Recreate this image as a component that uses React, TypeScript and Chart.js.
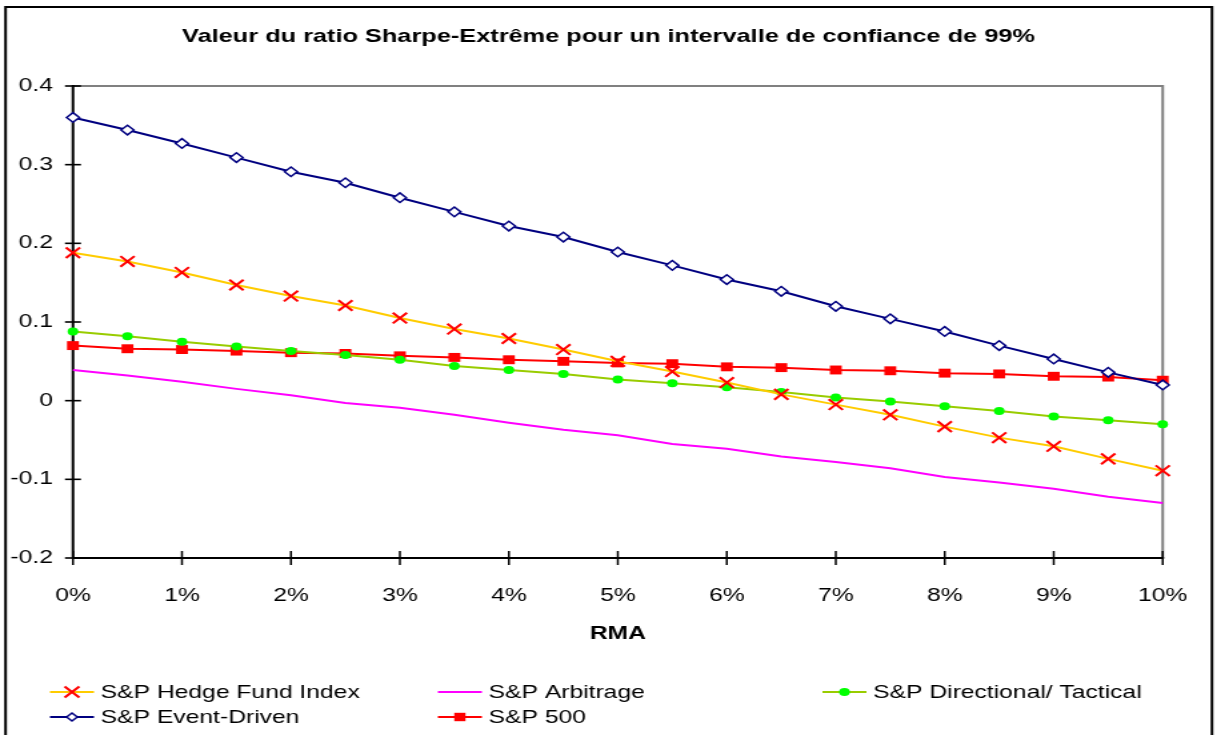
import React, { useEffect, useRef } from "react";
import { Chart, registerables } from "chart.js";

Chart.register(...registerables);

// ---- data ----
const rmaValues = [0, 0.5, 1, 1.5, 2, 2.5, 3, 3.5, 4, 4.5, 5, 5.5, 6, 6.5, 7, 7.5, 8, 8.5, 9, 9.5, 10];
const xTickLabels = ["0%", "1%", "2%", "3%", "4%", "5%", "6%", "7%", "8%", "9%", "10%"];
const yTickLabels = ["-0.2", "-0.1", "0", "0.1", "0.2", "0.3", "0.4"];

const hedgeFundIndex = [0.188, 0.177, 0.163, 0.147, 0.133, 0.121, 0.105, 0.091, 0.079, 0.065, 0.05, 0.037, 0.023, 0.008, -0.005, -0.018, -0.033, -0.047, -0.058, -0.074, -0.089];
const arbitrage = [0.039, 0.032, 0.024, 0.015, 0.007, -0.003, -0.009, -0.018, -0.028, -0.037, -0.044, -0.055, -0.061, -0.071, -0.078, -0.086, -0.097, -0.104, -0.112, -0.122, -0.13];
const directional = [0.088, 0.082, 0.075, 0.069, 0.063, 0.058, 0.052, 0.044, 0.039, 0.034, 0.027, 0.022, 0.017, 0.011, 0.004, -0.001, -0.007, -0.013, -0.02, -0.025, -0.03];
const eventDriven = [0.36, 0.344, 0.327, 0.309, 0.291, 0.277, 0.258, 0.24, 0.222, 0.208, 0.189, 0.172, 0.154, 0.139, 0.12, 0.104, 0.088, 0.07, 0.053, 0.036, 0.02];
const sp500 = [0.07, 0.066, 0.065, 0.063, 0.061, 0.06, 0.057, 0.055, 0.052, 0.05, 0.048, 0.047, 0.043, 0.042, 0.039, 0.038, 0.035, 0.034, 0.031, 0.03, 0.026];

const seriesNames = ["S&P Hedge Fund Index", "S&P Arbitrage", "S&P Directional/ Tactical", "S&P Event-Driven", "S&P 500"];

const chartTitle = "Valeur du ratio Sharpe-Extrême pour un intervalle de confiance de 99%";
const xAxisTitle = "RMA";

// ---- layout (canvas drawn narrower, stretched horizontally like the reference) ----
const OUT_W = 1217;
const OUT_H = 735;
const SX = 4 / 3;
const CW = Math.round(OUT_W / SX);
const FONT = "'Liberation Sans', Arial, sans-serif";
const FS = 18.5;

function toPoints(vals: number[]) {
  return vals.map((v, i) => ({ x: rmaValues[i], y: v }));
}

type Marker = "cross" | "none" | "circle" | "diamond" | "square";

function drawMarker(ctx: CanvasRenderingContext2D, kind: Marker, x: number, y: number, stroke: string, fill: string) {
  ctx.save();
  ctx.strokeStyle = stroke;
  ctx.fillStyle = fill;
  if (kind === "cross") {
    const r = 5.5;
    ctx.lineWidth = 2;
    ctx.beginPath();
    ctx.moveTo(x - r, y - r);
    ctx.lineTo(x + r, y + r);
    ctx.moveTo(x - r, y + r);
    ctx.lineTo(x + r, y - r);
    ctx.stroke();
  } else if (kind === "circle") {
    ctx.beginPath();
    ctx.arc(x, y, 4, 0, Math.PI * 2);
    ctx.fill();
  } else if (kind === "diamond") {
    const r = 4;
    ctx.lineWidth = 1.5;
    ctx.beginPath();
    ctx.moveTo(x, y - r);
    ctx.lineTo(x + r, y);
    ctx.lineTo(x, y + r);
    ctx.lineTo(x - r, y);
    ctx.closePath();
    ctx.fill();
    ctx.stroke();
  } else if (kind === "square") {
    const h = 4.2;
    ctx.fillRect(x - h, y - h, 2 * h, 2 * h);
  }
  ctx.restore();
}

const legendItems: { label: string; line: string; marker: Marker; mStroke: string; mFill: string; col: number; row: number }[] = [
  { label: seriesNames[0], line: "#FFCC00", marker: "cross", mStroke: "#FF0000", mFill: "#FF0000", col: 0, row: 0 },
  { label: seriesNames[1], line: "#FF00FF", marker: "none", mStroke: "#FF00FF", mFill: "#FF00FF", col: 1, row: 0 },
  { label: seriesNames[2], line: "#99CC00", marker: "circle", mStroke: "#00FF00", mFill: "#00FF00", col: 2, row: 0 },
  { label: seriesNames[3], line: "#000080", marker: "diamond", mStroke: "#000080", mFill: "#FFFFFF", col: 0, row: 1 },
  { label: seriesNames[4], line: "#FF0000", marker: "square", mStroke: "#FF0000", mFill: "#FF0000", col: 1, row: 1 },
];

const framePlugin = {
  id: "framePlugin",
  beforeDraw(chart: any) {
    const ctx = chart.ctx;
    ctx.save();
    ctx.fillStyle = "#FFFFFF";
    ctx.fillRect(0, 0, chart.width, chart.height);
    ctx.restore();
  },
  beforeDatasetsDraw(chart: any) {
    const ctx = chart.ctx;
    const { left, right, top, bottom } = chart.chartArea;
    ctx.save();
    ctx.lineCap = "butt";
    // grey top & right border
    ctx.strokeStyle = "#808080";
    ctx.lineWidth = 2;
    ctx.beginPath();
    ctx.moveTo(left, top);
    ctx.lineTo(right, top);
    ctx.lineTo(right, bottom);
    ctx.stroke();
    // black axes
    ctx.strokeStyle = "#000000";
    ctx.lineWidth = 2;
    ctx.beginPath();
    ctx.moveTo(left, top - 1);
    ctx.lineTo(left, bottom);
    ctx.lineTo(right + 1, bottom);
    ctx.stroke();
    // tick marks crossing the axes
    ctx.lineWidth = 1.6;
    const ys = chart.scales.y;
    ys.ticks.forEach((t: any) => {
      const p = ys.getPixelForValue(t.value);
      ctx.beginPath();
      ctx.moveTo(left - 6, p);
      ctx.lineTo(left + 6, p);
      ctx.stroke();
    });
    ctx.lineWidth = 1.5;
    const xs = chart.scales.x;
    xs.ticks.forEach((t: any) => {
      const p = xs.getPixelForValue(t.value);
      ctx.beginPath();
      ctx.moveTo(p, bottom - 7);
      ctx.lineTo(p, bottom + 7);
      ctx.stroke();
    });
    ctx.restore();
  },
  afterDraw(chart: any) {
    const ctx = chart.ctx;
    ctx.save();
    // outer frame
    ctx.strokeStyle = "#000000";
    ctx.lineWidth = 2;
    ctx.strokeRect(4.2, 7, 905, 760);
    // legend
    const colX = [37.5, 328.5, 617];
    const rowY = [692, 717];
    ctx.font = `${FS}px ${FONT}`;
    ctx.textBaseline = "middle";
    ctx.textAlign = "left";
    legendItems.forEach((it) => {
      const x0 = colX[it.col];
      const y = rowY[it.row];
      ctx.strokeStyle = it.line;
      ctx.lineWidth = 2;
      ctx.beginPath();
      ctx.moveTo(x0, y);
      ctx.lineTo(x0 + 33, y);
      ctx.stroke();
      if (it.marker !== "none") drawMarker(ctx, it.marker, x0 + 16.5, y, it.mStroke, it.mFill);
      ctx.fillStyle = "#000000";
      ctx.fillText(it.label, x0 + 38, y + 1);
    });
    ctx.restore();
  },
};

export default function App() {
  const ref = useRef<HTMLCanvasElement | null>(null);

  useEffect(() => {
    const canvas = ref.current;
    if (!canvas) return;
    const chart = new Chart(canvas, {
      type: "line",
      data: {
        datasets: [
          {
            label: seriesNames[0],
            data: toPoints(hedgeFundIndex),
            borderColor: "#FFCC00",
            borderWidth: 2,
            pointStyle: "crossRot",
            pointRadius: 7.5,
            pointBorderColor: "#FF0000",
            pointBackgroundColor: "#FF0000",
            pointBorderWidth: 2,
          },
          {
            label: seriesNames[1],
            data: toPoints(arbitrage),
            borderColor: "#FF00FF",
            borderWidth: 2,
            pointRadius: 0,
          },
          {
            label: seriesNames[2],
            data: toPoints(directional),
            borderColor: "#99CC00",
            borderWidth: 2,
            pointStyle: "circle",
            pointRadius: 4,
            pointBorderWidth: 0,
            pointBorderColor: "#00FF00",
            pointBackgroundColor: "#00FF00",
          },
          {
            label: seriesNames[3],
            data: toPoints(eventDriven),
            borderColor: "#000080",
            borderWidth: 2,
            pointStyle: "rectRot",
            pointRadius: 4.8,
            pointBorderWidth: 1.5,
            pointBorderColor: "#000080",
            pointBackgroundColor: "#FFFFFF",
          },
          {
            label: seriesNames[4],
            data: toPoints(sp500),
            borderColor: "#FF0000",
            borderWidth: 2,
            pointStyle: "rect",
            pointRadius: 6.3,
            pointBorderWidth: 0,
            pointBorderColor: "#FF0000",
            pointBackgroundColor: "#FF0000",
          },
        ],
      },
      options: {
        animation: false,
        responsive: false,
        devicePixelRatio: 1,
        clip: false as any,
        layout: { padding: { left: 0, right: 0, top: 0, bottom: OUT_H - 658 } },
        elements: { line: { tension: 0 } },
        plugins: {
          legend: { display: false },
          tooltip: { enabled: false },
          title: {
            display: true,
            text: chartTitle,
            color: "#000000",
            font: { family: FONT, size: 19, weight: "bold", lineHeight: 1.2 },
            padding: { top: 25, bottom: 86 - 25 - 19 * 1.2 },
          },
        },
        scales: {
          x: {
            type: "linear",
            min: 0,
            max: 10,
            grid: { display: false, drawTicks: true, tickLength: 26.5 },
            border: { display: false },
            ticks: {
              stepSize: 1,
              autoSkip: false,
              maxRotation: 0,
              padding: 0,
              color: "#000000",
              font: { family: FONT, size: FS },
              callback: (v: any) => xTickLabels[Math.round(Number(v))] ?? "",
            },
            title: {
              display: true,
              text: xAxisTitle,
              color: "#000000",
              font: { family: FONT, size: FS, weight: "bold", lineHeight: 1.2 },
              padding: { top: 0, bottom: 13 },
            },
            afterFit: (s: any) => {
              s.height = 100;
            },
          },
          y: {
            type: "linear",
            min: -0.2,
            max: 0.4,
            grid: { display: false, drawTicks: false },
            border: { display: false },
            ticks: {
              stepSize: 0.1,
              padding: 15,
              color: "#000000",
              font: { family: FONT, size: FS },
              callback: (v: any) => yTickLabels[Math.round((Number(v) + 0.2) * 10)] ?? "",
            },
            afterFit: (s: any) => {
              s.width = 73 / SX;
            },
          },
          yRight: {
            type: "linear",
            position: "right",
            display: true,
            min: -0.2,
            max: 0.4,
            grid: { display: false, drawTicks: false },
            border: { display: false },
            ticks: { display: false, padding: 0 },
            afterFit: (s: any) => {
              s.width = CW - 1163 / SX;
            },
          },
        },
      } as any,
      plugins: [framePlugin],
    });
    return () => chart.destroy();
  }, []);

  return (
    <div style={{ position: "fixed", left: 0, top: 0, width: OUT_W, height: OUT_H, background: "#fff" }}>
      <canvas ref={ref} width={CW} height={OUT_H} style={{ width: OUT_W + "px", height: OUT_H + "px", display: "block" }} />
    </div>
  );
}
